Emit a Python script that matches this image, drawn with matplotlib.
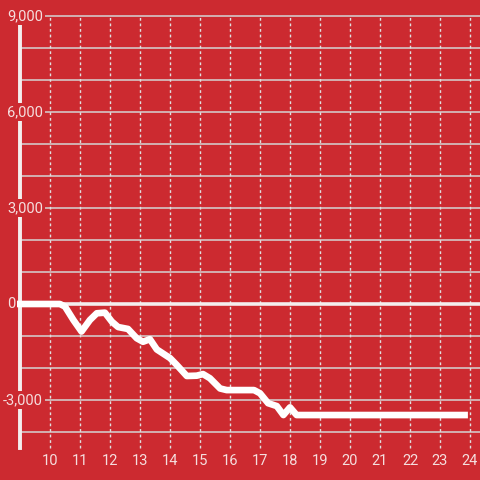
import matplotlib
matplotlib.use("Agg")
import matplotlib.pyplot as plt

# hours of the day and running value
hours = [8.9, 10.33, 10.5, 10.78, 11.05, 11.33, 11.56, 11.83, 12.06, 12.27,
         12.6, 12.89, 13.1, 13.33, 13.56, 14.0, 14.22, 14.56, 14.89, 15.1,
         15.33, 15.67, 15.89, 16.8, 17.0, 17.27, 17.56, 17.78, 18.0, 18.22, 23.93]
values = [0, 0, -80, -500, -860, -500, -290, -270, -550, -720,
          -780, -1070, -1180, -1100, -1420, -1690, -1900, -2250, -2240, -2190,
          -2320, -2640, -2690, -2690, -2790, -3100, -3190, -3470, -3230, -3470, -3470]

x_ticks = list(range(10, 25))
y_grid = list(range(-4000, 10000, 1000))
y_labels = [9000, 6000, 3000, -3000]

bg = "#cc2a30"
txt = "#f5dede"
plt.rcParams["font.family"] = ["Roboto", "DejaVu Sans"]

fig = plt.figure(figsize=(4.8, 4.8), dpi=100, facecolor=bg)
ax = fig.add_axes([0, 0, 1, 1])
ax.set_facecolor(bg)
ax.set_xlim(8.3333, 24.3333)
ax.set_ylim(-5500, 9500)
ax.axis("off")

# horizontal grid
for v in y_grid:
    if v == 0:
        continue
    ax.plot([9.0, 24.3333], [v, v], color="#d4d4d4", lw=1.1, zorder=1)

# vertical dotted grid
for h in x_ticks:
    ax.plot([h, h], [-4500, 9000], color="#e0e0e0", lw=1.0,
            linestyle=(0, (2, 2)), zorder=1)
    ax.text(h, -4900, str(h), color=txt, fontsize=10.5, ha="center", va="center")

# zero line and y axis line
ax.plot([9.0, 24.3333], [0, 0], color="#f4eeee", lw=2.6, zorder=2)
ax.plot([9.0, 9.0], [-4500, 9000], color="#f4eeee", lw=2.8, zorder=2)

# data line
ax.plot(hours, values, color="white", lw=4.8, solid_joinstyle="round",
        solid_capstyle="butt", zorder=3)

# y labels with background boxes covering the axis line
for v in y_labels:
    ax.text(9.77, v, f"{v:,}", color=txt, fontsize=10.5, ha="right", va="center",
            zorder=4,
            bbox=dict(facecolor=bg, edgecolor="none", pad=1.5))
ax.text(8.84, 0, "0", color=txt, fontsize=10.5, ha="right", va="center", zorder=4)

fig.savefig("out.png", dpi=100, facecolor=bg)
